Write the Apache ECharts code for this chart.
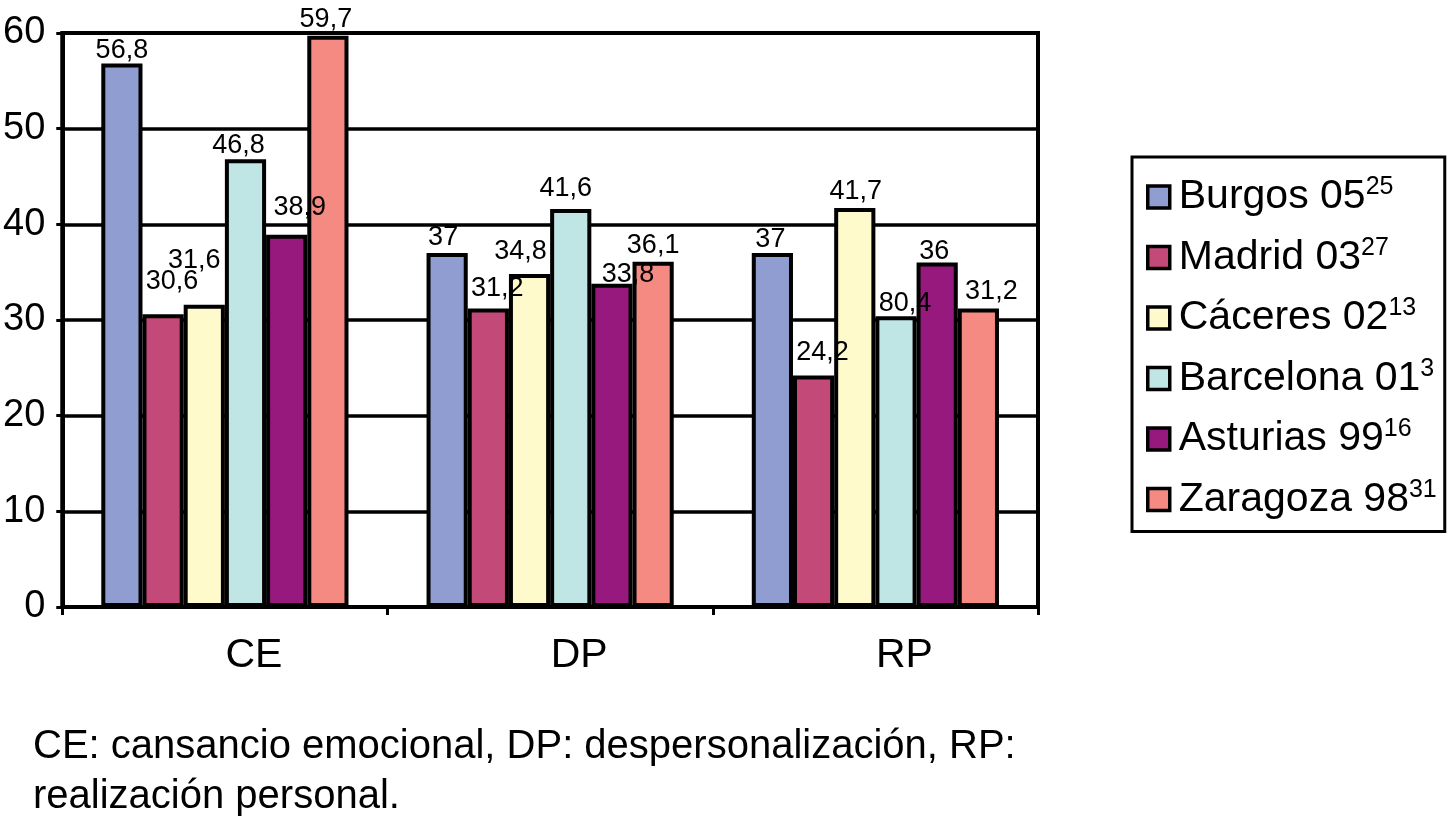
<!DOCTYPE html>
<html>
<head>
<meta charset="utf-8">
<script src="https://cdn.jsdelivr.net/npm/echarts@6/dist/echarts.min.js"></script>
<style>
html,body{margin:0;padding:0;background:#fff;}
#c{width:1451px;height:825px;}
</style>
</head>
<body>
<div id="c"></div>
<script>
// ---- data ----
const categories = ['CE', 'DP', 'RP'];
const seriesNames = ['Burgos 05', 'Madrid 03', 'Cáceres 02', 'Barcelona 01', 'Asturias 99', 'Zaragoza 98'];
const seriesRefs = ['25', '27', '13', '3', '16', '31'];
const burgos    = [56.8, 37, 37];
const madrid    = [30.6, 31.2, 24.2];
const caceres   = [31.6, 34.8, 41.7];
const barcelona = [46.8, 41.6, 30.4];
const asturias  = [38.9, 33.8, 36];
const zaragoza  = [59.7, 36.1, 31.2];
// printed labels as they appear in the original figure
const burgosLabels    = ['56,8', '37', '37'];
const madridLabels    = ['30,6', '31,2', '24,2'];
const caceresLabels   = ['31,6', '34,8', '41,7'];
const barcelonaLabels = ['46,8', '41,6', '80,4'];
const asturiasLabels  = ['38,9', '33,8', '36'];
const zaragozaLabels  = ['59,7', '36,1', '31,2'];
const yTicks = [0, 10, 20, 30, 40, 50, 60];
const footnote = 'CE: cansancio emocional, DP: despersonalización, RP:\nrealización personal.';

// ---- styling ----
const seriesValues = [burgos, madrid, caceres, barcelona, asturias, zaragoza];
const seriesLabels = [burgosLabels, madridLabels, caceresLabels, barcelonaLabels, asturiasLabels, zaragozaLabels];
const colors = ['#8f9dd0', '#c34a78', '#fffacb', '#c0e5e5', '#97197d', '#f58a82'];
// label nudges (px) to mimic the original label placement
const labelNudge = [
  [[0, 0], [-4, -2], [-2, 0]],
  [[9, -19], [9, -6], [9, -9]],
  [[-10, -31], [-9, -9], [1, -3]],
  [[-7, 0], [-5, -7], [9, 1]],
  [[13, -14], [16, 4], [-3, 2]],
  [[-2, -3], [0, -3], [13, -3]]
];
const FONT = 'Liberation Sans, Arial, Helvetica, sans-serif';

const chart = echarts.init(document.getElementById('c'), null, {renderer: 'canvas'});

const series = seriesNames.map((name, si) => ({
  name: name,
  type: 'bar',
  barGap: '0%',
  barCategoryGap: '24%',
  itemStyle: {color: colors[si], borderColor: '#000', borderWidth: 4},
  label: {
    show: true,
    position: 'top',
    distance: 0,
    color: '#000',
    fontSize: 27,
    fontFamily: FONT,
    formatter: p => seriesLabels[si][p.dataIndex]
  },
  data: seriesValues[si].map((v, ci) => ({
    value: v,
    label: {offset: labelNudge[si][ci]}
  }))
}));

const refMap = {};
seriesNames.forEach((n, i) => refMap[n] = seriesRefs[i]);

chart.setOption({
  animation: false,
  backgroundColor: '#fff',
  title: {
    text: footnote,
    left: 28,
    top: 717,
    textStyle: {fontSize: 40, fontWeight: 'normal', color: '#000', fontFamily: FONT, lineHeight: 50}
  },
  grid: {
    left: 62, right: 413, top: 33, bottom: 218,
    show: true, borderColor: '#000', borderWidth: 4,
    containLabel: false
  },
  legend: {
    orient: 'vertical',
    left: 1132,
    top: 157,
    padding: [18, 8, 7, 14],
    borderColor: '#000',
    borderWidth: 3,
    itemWidth: 22,
    itemHeight: 22,
    itemGap: 13.5,
    icon: 'rect',
    itemStyle: {borderColor: '#000', borderWidth: 3.5},
    data: seriesNames,
    formatter: name => '{n|' + name + '}{s|' + refMap[name] + '}',
    textStyle: {
      color: '#000',
      fontFamily: FONT,
      fontSize: 41,
      padding: [0, 0, 0, 4],
      rich: {
        n: {fontSize: 41, fontFamily: FONT, color: '#000', lineHeight: 44},
        s: {fontSize: 25, fontFamily: FONT, color: '#000', verticalAlign: 'top', lineHeight: 44, padding: [0, 0, 22, 0]}
      }
    }
  },
  xAxis: {
    type: 'category',
    data: categories,
    axisLine: {lineStyle: {color: '#000', width: 4}},
    axisTick: {show: true, alignWithLabel: false, length: 8, lineStyle: {color: '#000', width: 3}},
    axisLabel: {color: '#000', fontSize: 41, fontFamily: FONT, margin: 28, padding: [0, 0, 0, 58]}
  },
  yAxis: {
    type: 'value',
    min: yTicks[0],
    max: yTicks[yTicks.length - 1],
    interval: 10,
    axisLine: {show: true, lineStyle: {color: '#000', width: 4}},
    axisTick: {show: true, length: 6, lineStyle: {color: '#000', width: 3}},
    splitLine: {show: true, lineStyle: {color: '#000', width: 3.5}},
    axisLabel: {color: '#000', fontSize: 38, fontFamily: FONT, margin: 17}
  },
  series: series
});
</script>
</body>
</html>
